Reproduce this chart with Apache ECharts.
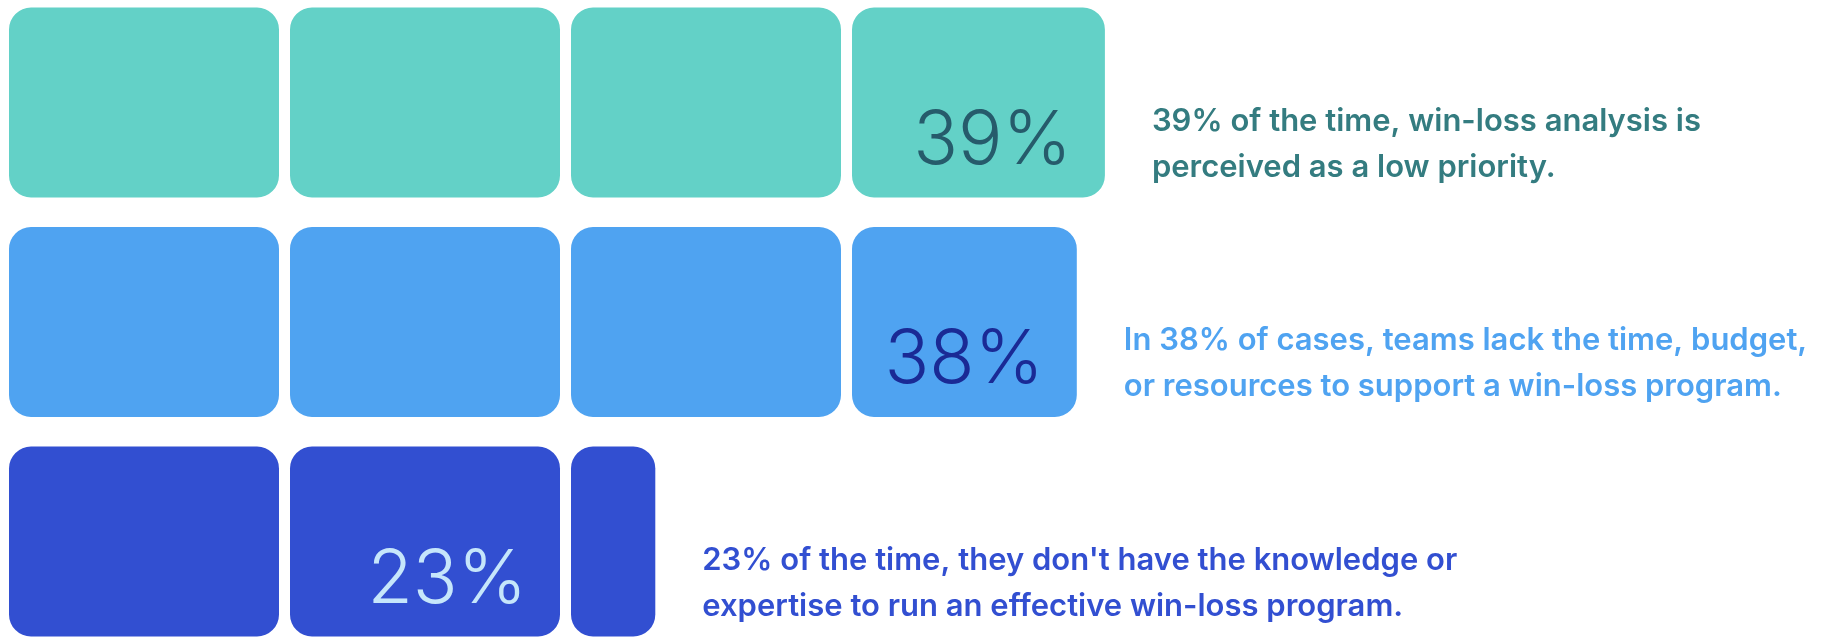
<!DOCTYPE html>
<html>
<head>
<meta charset="utf-8">
<script src="https://cdn.jsdelivr.net/npm/echarts@6/dist/echarts.min.js"></script>
<style>
html,body{margin:0;padding:0;background:#ffffff;}
#chart{width:1844px;height:642px;}
</style>
</head>
<body>
<div id="chart"></div>
<script>
const categories = ['Low priority', 'Lack of resources', 'Lack of expertise'];
const values = [39, 38, 23];
const percentLabels = ['39%', '38%', '23%'];
const descriptions = [
  '39% of the time, win-loss analysis is\nperceived as a low priority.',
  'In 38% of cases, teams lack the time, budget,\nor resources to support a win-loss program.',
  "23% of the time, they don't have the knowledge or\nexpertise to run an effective win-loss program."
];

const blockColors = ['#63D1C7', '#4FA3F1', '#324FD1'];
const pctColors = ['#265B6B', '#1A2A95', '#C6E6FB'];
const descColors = ['#347C80', '#4FA3F1', '#324FD1'];
const SEG = 10;
const GAP = 11;
const BLOCK_H = 190;

const chart = echarts.init(document.getElementById('chart'));

function renderItem(params, api) {
  const row = api.value(0);
  const val = api.value(1);
  const center = api.coord([0, row])[1];
  const top = center - BLOCK_H / 2;
  const children = [];
  let labelBlockRight = null;
  for (let k = 0; k * SEG < val; k++) {
    const s = k * SEG;
    const full = (k + 1) * SEG <= val;
    const e = full ? (k + 1) * SEG : val;
    const x0 = api.coord([s, row])[0];
    const x1 = api.coord([e, row])[0] - (full ? GAP : 0);
    if (x1 - x0 > 150) labelBlockRight = x1;
    children.push({
      type: 'rect',
      shape: { x: x0, y: top, width: x1 - x0, height: BLOCK_H, r: 22 },
      style: { fill: blockColors[row] }
    });
  }
  children.push({
    type: 'text',
    style: {
      text: percentLabels[row],
      x: labelBlockRight - 33,
      y: center + 2,
      align: 'right',
      verticalAlign: 'top',
      fontFamily: 'Inter',
      fontWeight: 300,
      fontSize: 74,
      fill: pctColors[row]
    }
  });
  const endX = api.coord([val, row])[0];
  children.push({
    type: 'text',
    style: {
      text: descriptions[row],
      x: endX + 47,
      y: center - 4,
      align: 'left',
      verticalAlign: 'top',
      fontFamily: 'Inter',
      fontWeight: 600,
      fontSize: 31,
      lineHeight: 46,
      fill: descColors[row]
    }
  });
  return { type: 'group', children: children };
}

chart.setOption({
  animation: false,
  grid: { left: 9, top: 0, width: 1686, height: 642 },
  xAxis: { type: 'value', min: 0, max: 60, show: false },
  yAxis: { type: 'value', min: -0.467, max: 2.458, inverse: true, show: false },
  series: [{
    type: 'custom',
    renderItem: renderItem,
    clip: false,
    data: values.map((v, i) => [i, v]),
    encode: { x: 1, y: 0 }
  }]
});
</script>
</body>
</html>
